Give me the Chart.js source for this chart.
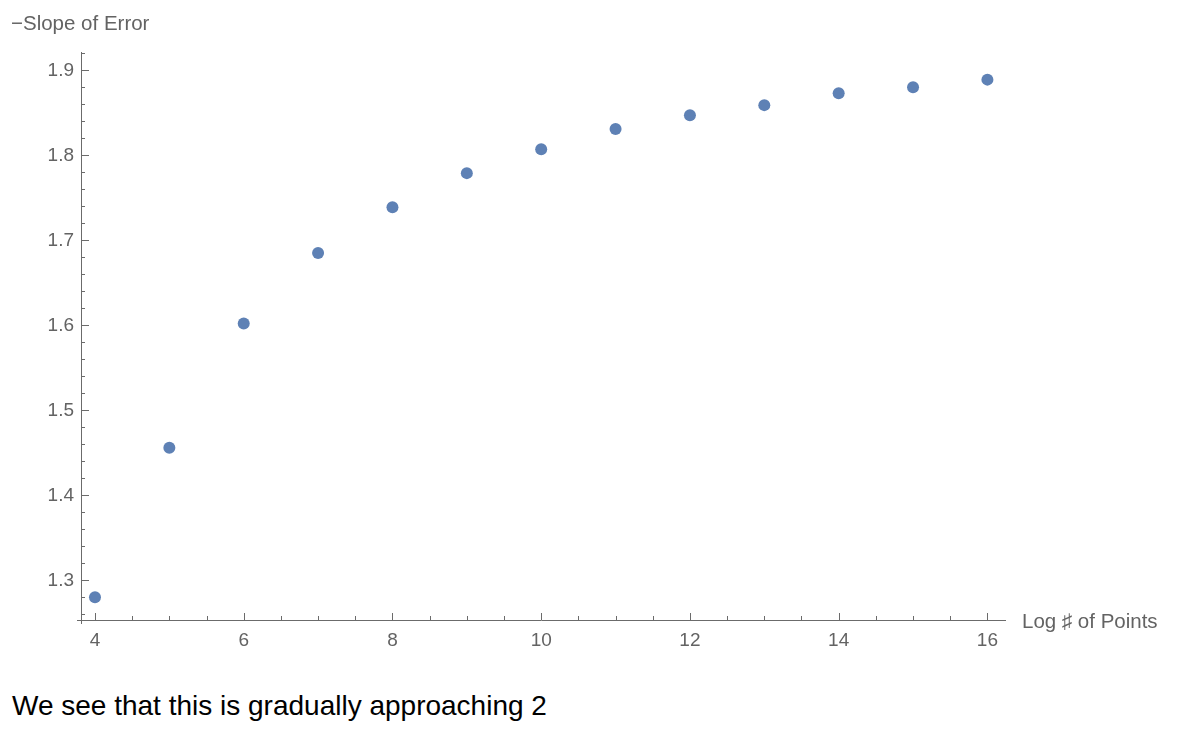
<!DOCTYPE html>
<html>
<head>
<meta charset="utf-8">
<script src="https://cdn.jsdelivr.net/npm/chart.js@4/dist/chart.umd.min.js"></script>
<style>
  body { margin: 0; background: #fff; font-family: "Liberation Sans", Arial, sans-serif; }
  #wrap { position: relative; width: 1180px; height: 742px; }
  #box { position: absolute; left: 0; top: 0; width: 1180px; height: 660px; }
  .lbl { position: absolute; color: #636363; font-size: 20.5px; white-space: nowrap; line-height: 1; }
  #caption { position: absolute; left: 12px; top: 692px; font-size: 28px; color: #000; line-height: 1; }
</style>
</head>
<body>
<div id="wrap">
  <div id="box"><canvas id="errChart"></canvas></div>
  <div class="lbl" style="left:11px; top:13px;">&minus;Slope of Error</div>
  <div class="lbl" style="left:1022px; top:611px;">Log &#9839; of Points</div>
  <div id="caption">We see that this is gradually approaching 2</div>
</div>
<script>
// data
const logPoints = [4, 5, 6, 7, 8, 9, 10, 11, 12, 13, 14, 15, 16];
const slopeVals = [1.280, 1.456, 1.602, 1.685, 1.739, 1.779, 1.807, 1.831, 1.847, 1.859, 1.873, 1.880, 1.889];
const xTickLabels = [4, 6, 8, 10, 12, 14, 16];
const yTickLabels = [1.3, 1.4, 1.5, 1.6, 1.7, 1.8, 1.9];

const axisColor = "#6b6b6b";
const labelColor = "#636363";

// inward tick marks and axis lines, Mathematica style
const axesPlugin = {
  id: "mmaAxes",
  afterDraw(chart) {
    const ctx = chart.ctx;
    const xs = chart.scales.x, ys = chart.scales.y;
    const a = chart.chartArea;
    ctx.save();
    ctx.strokeStyle = axisColor;
    ctx.lineWidth = 1;
    ctx.beginPath();
    ctx.moveTo(a.left - 4, a.bottom + 0.5);
    ctx.lineTo(a.right, a.bottom + 0.5);
    ctx.moveTo(a.left + 0.5, a.top);
    ctx.lineTo(a.left + 0.5, a.bottom + 4);
    // x ticks every 0.5
    for (let v = 4; v <= 16.001; v += 0.5) {
      const px = Math.round(xs.getPixelForValue(v)) + 0.5;
      const major = Math.abs(v % 2) < 1e-6;
      ctx.moveTo(px, a.bottom);
      ctx.lineTo(px, a.bottom - (major ? 7 : 4));
    }
    // y ticks every 0.02
    for (let k = 0; k <= 33; k++) {
      const v = 1.26 + k * 0.02;
      if (v > ys.max) break;
      const py = Math.round(ys.getPixelForValue(v)) + 0.5;
      const major = Math.abs(Math.round(v * 100) % 10) === 0;
      ctx.moveTo(a.left, py);
      ctx.lineTo(a.left + (major ? 8 : 4), py);
    }
    ctx.stroke();
    ctx.restore();
  }
};

const errChart = new Chart(document.getElementById("errChart"), {
  type: "scatter",
  data: {
    datasets: [{
      data: logPoints.map((x, i) => ({ x: x, y: slopeVals[i] })),
      backgroundColor: "#5e81b5",
      borderWidth: 0,
      pointRadius: 6,
      pointHoverRadius: 6
    }]
  },
  options: {
    responsive: true,
    maintainAspectRatio: false,
    animation: false,
    layout: { padding: { left: 0, top: 52, right: 174, bottom: 0 } },
    plugins: { legend: { display: false }, tooltip: { enabled: false } },
    scales: {
      x: {
        type: "linear",
        min: 3.812,
        max: 16.25,
        grid: { display: false, drawTicks: false },
        border: { display: false },
        afterBuildTicks: s => { s.ticks = xTickLabels.map(v => ({ value: v })); },
        afterFit: s => { s.height = 40; },
        ticks: {
          color: labelColor,
          padding: 9,
          maxRotation: 0,
          font: { family: "'Liberation Sans', Arial, sans-serif", size: 19 }
        }
      },
      y: {
        type: "linear",
        min: 1.2533,
        max: 1.9215,
        grid: { display: false, drawTicks: false },
        border: { display: false },
        afterBuildTicks: s => { s.ticks = yTickLabels.map(v => ({ value: v })); },
        afterFit: s => { s.width = 81; },
        ticks: {
          color: labelColor,
          padding: 7,
          callback: v => v.toFixed(1),
          font: { family: "'Liberation Sans', Arial, sans-serif", size: 19 }
        }
      }
    }
  },
  plugins: [axesPlugin]
});
</script>
</body>
</html>
